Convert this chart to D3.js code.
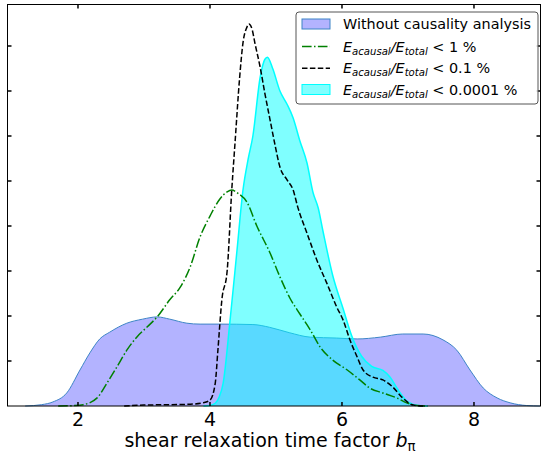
<!DOCTYPE html>
<html><head><meta charset="utf-8">
<script src="https://cdn.jsdelivr.net/npm/d3@7"></script>
<style>body{margin:0;background:#fff}svg{display:block}text{font-family:"DejaVu Sans",sans-serif}</style>
</head><body><svg id="c" width="542" height="454"></svg>
<script>
// Data (density vs b_pi)
const noCausalX = [1.2,1.45,1.62,1.83,2.03,2.18,2.33,2.48,2.74,2.98,3.2,3.39,3.65,3.85,4.15,4.65,4.9,5.2,5.52,5.92,6.23,6.58,6.92,7.23,7.53,7.74,7.94,8.14,8.35,8.55,8.8,9.0];
const noCausalY = [0,0.003,0.009,0.029,0.08,0.118,0.149,0.164,0.184,0.193,0.198,0.193,0.184,0.182,0.182,0.181,0.175,0.163,0.153,0.151,0.149,0.153,0.16,0.16,0.147,0.124,0.08,0.04,0.018,0.007,0.001,0];
const acausal1X = [1.7,1.95,2.08,2.29,2.44,2.59,2.74,2.89,3.05,3.2,3.39,3.55,3.7,3.85,4.0,4.15,4.26,4.33,4.42,4.56,4.71,4.91,5.06,5.21,5.36,5.52,5.67,5.86,6.08,6.27,6.42,6.62,6.83,6.98,7.14,7.3];
const acausal1Y = [0,0.001,0.003,0.018,0.051,0.087,0.124,0.153,0.176,0.198,0.236,0.264,0.309,0.376,0.422,0.46,0.476,0.48,0.473,0.453,0.4,0.34,0.287,0.24,0.205,0.169,0.131,0.102,0.08,0.058,0.04,0.029,0.018,0.007,0.001,0];
const acausal01X = [2.7,3.0,3.4,3.7,3.89,4.0,4.08,4.12,4.18,4.26,4.33,4.38,4.45,4.5,4.56,4.59,4.64,4.68,4.76,4.83,4.91,4.98,5.06,5.17,5.26,5.33,5.47,5.62,5.77,5.92,6.02,6.12,6.23,6.32,6.47,6.62,6.77,6.92,7.08,7.23];
const acausal01Y = [0,0.002,0.003,0.004,0.007,0.013,0.051,0.124,0.236,0.3,0.48,0.586,0.731,0.807,0.842,0.849,0.836,0.807,0.753,0.696,0.636,0.584,0.531,0.502,0.48,0.442,0.384,0.324,0.273,0.22,0.19,0.147,0.109,0.08,0.064,0.058,0.042,0.018,0.002,0];
const acausal0001X = [3.9,4.0,4.08,4.14,4.2,4.3,4.41,4.5,4.58,4.65,4.76,4.83,4.87,4.95,5.06,5.17,5.26,5.36,5.47,5.56,5.64,5.71,5.86,6.02,6.15,6.3,6.45,6.62,6.73,6.85,7.0,7.15,7.3];
const acausal0001Y = [0,0.001,0.006,0.02,0.051,0.184,0.347,0.48,0.55,0.6,0.73,0.77,0.775,0.75,0.7,0.67,0.64,0.59,0.54,0.475,0.44,0.39,0.29,0.215,0.155,0.11,0.088,0.079,0.064,0.036,0.009,0.001,0];
const xTicks = [2,4,6,8];
const yTicks = [0.1,0.2,0.3,0.4,0.5,0.6,0.7,0.8];
const legendLabels = ["Without causality analysis","1 %","0.1 %","0.0001 %"];

const svg = d3.select("#c");
const L=7.5, R=540.5, T=4.5, B=406;
const x = d3.scaleLinear().domain([0.932,9.008]).range([L,R]);
const y = d3.scaleLinear().domain([0,(B-T)/450]).range([B,T]);

const pts = (xs,ys)=>xs.map((v,i)=>[v,ys[i]]);
const area = d3.area().x(d=>x(d[0])).y0(y(0)).y1(d=>y(d[1])).curve(d3.curveMonotoneX);
const line = d3.line().x(d=>x(d[0])).y(d=>y(d[1])).curve(d3.curveMonotoneX);

const g = svg.append("g");
g.append("path").attr("d",area(pts(noCausalX,noCausalY))).attr("fill","#b3b3ff");
g.append("path").attr("d",line(pts(noCausalX,noCausalY))).attr("fill","none").attr("stroke","#3d84c6").attr("stroke-width",1);
g.append("path").attr("d",area(pts(acausal0001X,acausal0001Y))).attr("fill","#00ffff").attr("fill-opacity",0.5);
g.append("path").attr("d",line(pts(acausal0001X,acausal0001Y))).attr("fill","none").attr("stroke","#00ffff").attr("stroke-width",1.5);
g.append("path").attr("d",line(pts(acausal1X,acausal1Y))).attr("fill","none").attr("stroke","#008000").attr("stroke-width",1.5).attr("stroke-dasharray","9.6,2.4,1.5,2.4");
g.append("path").attr("d",line(pts(acausal01X,acausal01Y))).attr("fill","none").attr("stroke","#000").attr("stroke-width",1.5).attr("stroke-dasharray","5.5,2.4");

// frame
svg.append("rect").attr("x",L).attr("y",T).attr("width",R-L).attr("height",B-T).attr("fill","none").attr("stroke","#000").attr("stroke-width",1);

// ticks inward
const tk = svg.append("g").attr("stroke","#000").attr("stroke-width",1.5);
xTicks.forEach(v=>{
  tk.append("line").attr("x1",x(v)).attr("x2",x(v)).attr("y1",B).attr("y2",B-4);
  tk.append("line").attr("x1",x(v)).attr("x2",x(v)).attr("y1",T).attr("y2",T+4);
});
yTicks.forEach(v=>{
  tk.append("line").attr("x1",L).attr("x2",L+4).attr("y1",y(v)).attr("y2",y(v));
  tk.append("line").attr("x1",R).attr("x2",R-4).attr("y1",y(v)).attr("y2",y(v));
});
xTicks.forEach(v=>{
  svg.append("text").attr("x",x(v)).attr("y",426).attr("text-anchor","middle").attr("font-size",19).attr("fill","#000").text(v);
});

// x label
const xl = svg.append("text").attr("x",270).attr("y",447).attr("text-anchor","middle").attr("font-size",19).attr("fill","#000");
xl.append("tspan").text("shear relaxation time factor ");
xl.append("tspan").attr("font-style","italic").text("b");
xl.append("tspan").attr("font-size",13.3).attr("dy",4).text("π");

// legend
const lg = svg.append("g");
lg.append("rect").attr("x",296).attr("y",12).attr("width",242).attr("height",92).attr("rx",3).attr("fill","#fff").attr("fill-opacity",0.8).attr("stroke","#555").attr("stroke-width",1);
const rows=[24,46.5,68.2,89.5];
lg.append("rect").attr("x",302).attr("y",rows[0]-5).attr("width",28).attr("height",10).attr("fill","#b3b3ff").attr("stroke","#3d84c6");
lg.append("line").attr("x1",302).attr("x2",330).attr("y1",rows[1]).attr("y2",rows[1]).attr("stroke","#008000").attr("stroke-width",1.5).attr("stroke-dasharray","9.6,2.4,1.5,2.4");
lg.append("line").attr("x1",302).attr("x2",330).attr("y1",rows[2]).attr("y2",rows[2]).attr("stroke","#000").attr("stroke-width",1.5).attr("stroke-dasharray","5.5,2.4");
lg.append("rect").attr("x",302).attr("y",rows[3]-5).attr("width",28).attr("height",10).attr("fill","#80ffff").attr("stroke","#00ffff");
lg.append("text").attr("x",343).attr("y",rows[0]+5).attr("font-size",14.4).attr("fill","#000").text(legendLabels[0]);
for(let i=1;i<4;i++){
  const t = lg.append("text").attr("x",343).attr("y",rows[i]+5).attr("font-size",14.4).attr("fill","#000").attr("xml:space","preserve");
  t.append("tspan").attr("font-style","italic").text("E");
  t.append("tspan").attr("font-style","italic").attr("font-size",10.1).attr("dy",3).text("acausal");
  t.append("tspan").attr("font-style","italic").attr("dy",-3).text("/E");
  t.append("tspan").attr("font-style","italic").attr("font-size",10.1).attr("dy",3).text("total");
  t.append("tspan").attr("dy",-3).text(" < " + legendLabels[i]);
}
</script></body></html>
